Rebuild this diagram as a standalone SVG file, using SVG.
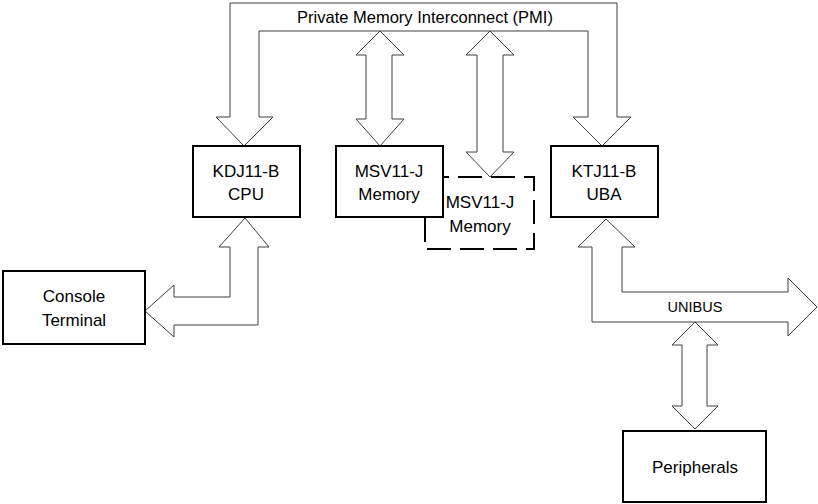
<svg xmlns="http://www.w3.org/2000/svg" width="818" height="504" viewBox="0 0 818 504">
<style>
.box{fill:#fff;stroke:#000;stroke-width:2}
.dash{fill:#fff;stroke:#000;stroke-width:2;stroke-dasharray:24 9}
.arr{fill:#fff;stroke:#404040;stroke-width:1;stroke-linejoin:miter}
text{font-family:"Liberation Sans",Arial,sans-serif;fill:#000;text-anchor:middle}
.t{font-size:17px}
.s{font-size:14.5px}
</style>
<rect width="818" height="504" fill="#fff"/>
<g id="msv2">
<rect class="dash" x="425" y="177" width="109" height="72"/>
<text class="t" x="480" y="208">MSV11-J</text>
<text class="t" x="480" y="232">Memory</text>
</g>
<g id="connectors">
<polygon id="pmi" class="arr" points="244,146 273,117 259,117 259,31 588,31 588,117 573,117 602,146 631,117 617,117 617,3 230,3 230,117 216,117"/>
<text x="425" y="23" style="font-size:16.5px">Private Memory Interconnect (PMI)</text>
<polygon class="arr" points="380,31 404,55 392,55 392,119 404,119 380,146 356,119 366,119 366,55 356,55"/>
<polygon class="arr" points="490,31 514,55 503,55 503,152 514,152 490,177 466,152 477,152 477,55 466,55"/>
<polygon class="arr" points="245,218 269,247 258,247 258,325 174,325 174,337 145,311 174,285 174,297 230,297 230,247 219,247"/>
<polygon id="unibus" class="arr" points="606,219 635,247 622,247 622,292 788,292 788,278 817,307 788,336 788,322 592,322 592,247 578,247"/>
<text class="s" x="695" y="312">UNIBUS</text>
<polygon class="arr" points="695,322 718,345 707,345 707,406 718,406 695,429 672,406 682,406 682,345 672,345"/>
</g>
<g id="cpu">
<rect class="box" x="193" y="146" width="107" height="71"/>
<text class="t" x="246" y="177">KDJ11-B</text>
<text class="t" x="246" y="200">CPU</text>
</g>
<g id="msv1">
<rect class="box" x="336" y="146" width="107" height="71"/>
<text class="t" x="389" y="177">MSV11-J</text>
<text class="t" x="389" y="200">Memory</text>
</g>
<g id="uba">
<rect class="box" x="551" y="146" width="107" height="71"/>
<text class="t" x="604" y="177">KTJ11-B</text>
<text class="t" x="604" y="200">UBA</text>
</g>
<g id="console">
<rect class="box" x="3" y="271" width="142" height="73"/>
<text class="t" x="74" y="302">Console</text>
<text class="t" x="74" y="326">Terminal</text>
</g>
<g id="peripherals">
<rect class="box" x="623" y="431" width="143" height="71"/>
<text class="t" x="695" y="473">Peripherals</text>
</g>
</svg>
